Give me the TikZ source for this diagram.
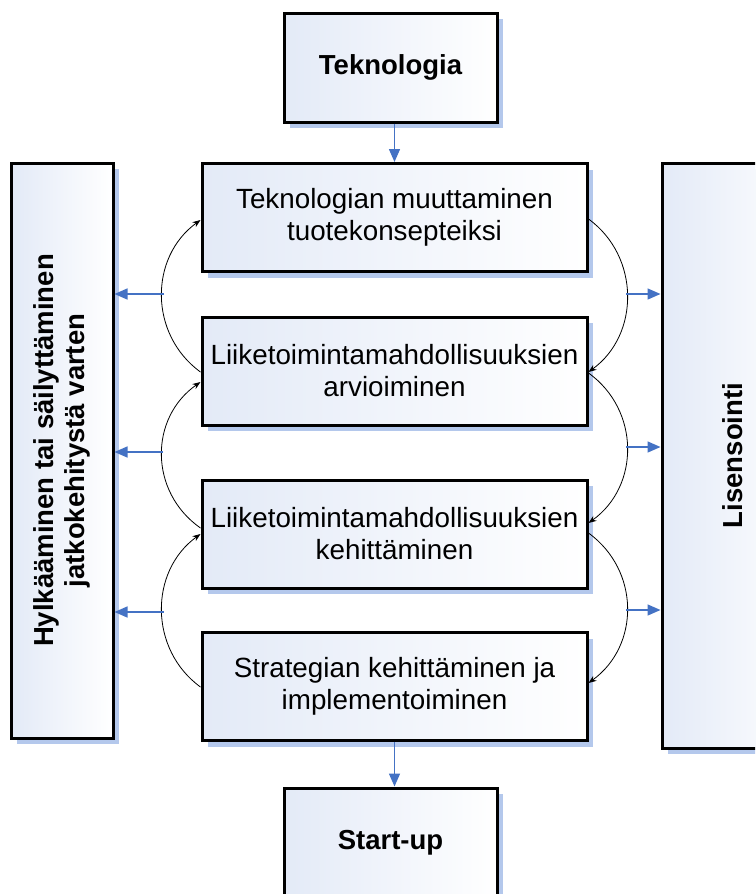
\documentclass[tikz,border=0pt]{standalone}
\usepackage{fontspec}
\setmainfont{Liberation Sans}
\usetikzlibrary{shadows,arrows.meta,calc}
\definecolor{boxblue}{RGB}{227,234,247}
\definecolor{shadowblue}{RGB}{180,200,236}
\definecolor{arrowblue}{RGB}{68,114,196}
\begin{document}
\begin{tikzpicture}[x=1pt,y=-1pt,
  box/.style={draw=black, line width=3pt, left color=boxblue, right color=white,
    inner sep=0pt, align=center, font=\fontsize{27.8}{32}\selectfont,
    drop shadow={shadow xshift=6pt, shadow yshift=-6pt, fill=shadowblue, opacity=1}},
  midbox/.style={box, minimum width=385, minimum height=108},
  endbox/.style={box, minimum width=213, minimum height=109, font=\fontsize{27.5}{32}\selectfont\bfseries},
  sidetext/.style={rotate=90, align=center, font=\fontsize{27.5}{31.5}\selectfont\bfseries},
  bluearrow/.style={draw=arrowblue, line width=1.5pt, -{Triangle[length=13pt,width=11pt]}},
  loop/.style={draw=black, line width=0.8pt, -{Stealth[length=8pt,width=6pt]}}
]
\useasboundingbox (0,0) rectangle (755,894);
\clip (0,0) rectangle (755,894);

% side boxes
\node[box, minimum width=102, minimum height=575] (lbox) at (62,450.5) {};
\node[sidetext] (ltext) at (lbox.center) {Hylkääminen tai säilyttäminen\\jatkokehitystä varten};
\node[box, minimum width=142, minimum height=585] (rbox) at (733,455.5) {};
\node[sidetext] (rtext) at (rbox.center) {Lisensointi};

% top/bottom
\node[endbox] (tek) at (390.5,67.5) {Teknologia};
\node[endbox] (start) at (390.5,842.5) {Start-up};

% middle boxes
\node[midbox] (b1) at (394.5,217.5) {Teknologian muuttaminen\\tuotekonsepteiksi};
\node[midbox] (b2) at (394.5,371) {Liiketoimintamahdollisuuksien\\arvioiminen};
\node[midbox] (b3) at (394.5,534) {Liiketoimintamahdollisuuksien\\kehittäminen};
\node[midbox] (b4) at (394.5,686.5) {Strategian kehittäminen ja\\implementoiminen};

% vertical flow arrows
\draw[bluearrow] (b1.north |- tek.south) -- (b1.north);
\draw[bluearrow] (b4.south) -- (start.north -| b4.south);

% left loops (upwards)
\draw[loop] ($(b2.west)+(0,1)$) .. controls +(-51.5,-37.4) and +(-51.5,37.4) .. ($(b1.west)+(0,2.5)$);
\draw[loop] ($(b3.west)+(0,-6)$) .. controls +(-51.5,-36) and +(-51.5,36) .. ($(b2.west)+(0,11)$);
\draw[loop] ($(b4.west)+(0,0.5)$) .. controls +(-51.5,-37.4) and +(-51.5,37.4) .. ($(b3.west)+(0,0)$);

% right loops (downwards)
\draw[loop] ($(b1.east)+(0,1.5)$) .. controls +(51.5,37.4) and +(51.5,-37.4) .. ($(b2.east)+(0,1)$);
\draw[loop] ($(b2.east)+(0,2)$) .. controls +(51.5,37) and +(51.5,-37) .. ($(b3.east)+(0,-11)$);
\draw[loop] ($(b3.east)+(0,-1)$) .. controls +(51.5,37.4) and +(51.5,-37.4) .. ($(b4.east)+(0,-3.5)$);

% blue side arrows
\coordinate (l1) at (164,294);
\coordinate (l2) at (163,452);
\coordinate (l3) at (164,612);
\coordinate (r1) at (626,294);
\coordinate (r2) at (626,447);
\coordinate (r3) at (626,610);
\draw[bluearrow] (l1) -- (l1 -| lbox.east);
\draw[bluearrow] (l2) -- (l2 -| lbox.east);
\draw[bluearrow] (l3) -- (l3 -| lbox.east);
\draw[bluearrow] (r1) -- (r1 -| rbox.west);
\draw[bluearrow] (r2) -- (r2 -| rbox.west);
\draw[bluearrow] (r3) -- (r3 -| rbox.west);
\end{tikzpicture}
\end{document}
